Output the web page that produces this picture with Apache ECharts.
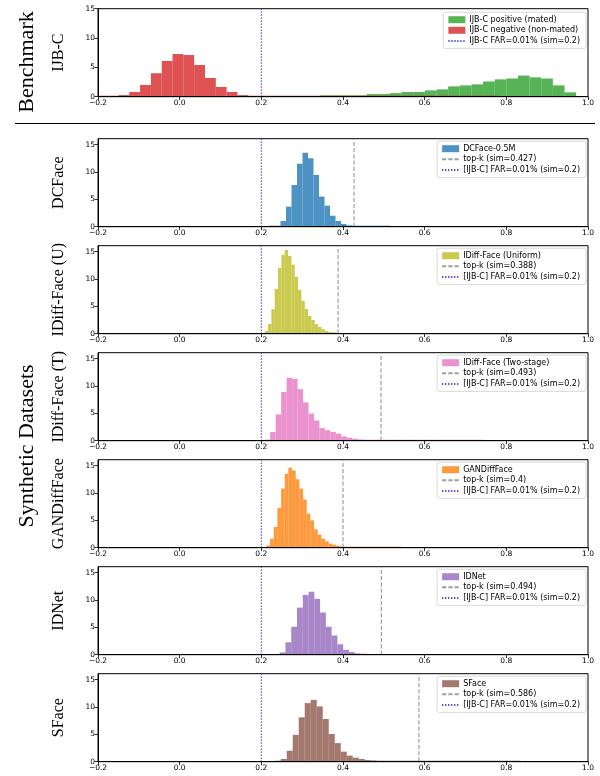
<!DOCTYPE html>
<html>
<head>
<meta charset="utf-8">
<script src="https://cdn.jsdelivr.net/npm/echarts@6/dist/echarts.min.js"></script>
<style>
    html, body { margin: 0; padding: 0; background: #fff; }
    #plot { width: 600px; height: 776px; }
</style>
</head>
<body>
<div id="plot"></div>
<script>
// ---------- data ----------
// every histogram: left edge of first bin, bin width, bar heights (density)

var xTicks = [-0.2, 0.0, 0.2, 0.4, 0.6, 0.8, 1.0];
var yTicks = [0, 5, 10, 15];

// IJB-C negative (non-mated)
var negStart = -0.203, negWidth = 0.0265;
var negValues = [0.03, 0.08, 0.28, 0.8, 2.0, 4.0, 6.1, 7.27, 7.1, 5.4, 3.2, 1.65, 0.8, 0.28, 0.1, 0.05,
    0.03, 0.03, 0.02, 0.02, 0.02, 0.02, 0.02, 0.02, 0.02, 0.01, 0.01, 0.01, 0.01, 0.01, 0.01, 0.01,
    0.01, 0.01, 0.01, 0.01, 0.01];

// IJB-C positive (mated)
var posStart = 0.344, posWidth = 0.0285;
var posValues = [0.23, 0.23, 0.23, 0.23, 0.45, 0.45, 0.62, 0.8, 0.8, 1.08, 1.25, 1.76, 1.93, 2.1, 2.6,
    2.95, 3.1, 3.6, 3.3, 3.1, 1.93, 0.74];

// DCFace-0.5M
var dcStart = 0.22, dcWidth = 0.01347;
var dcValues = [0.05, 0.18, 1.04, 3.66, 7.6, 11.5, 13.5, 12.5, 9.45, 5.5, 3.84, 2.0, 1.04, 0.5, 0.25,
    0.1, 0.05, 0.03, 0.02, 0.02, 0.01, 0.01];

// IDiff-Face (Uniform)
var iduStart = 0.2083, iduWidth = 0.00816;
var iduValues = [0.49, 1.77, 4.5, 8.17, 12.0, 14.4, 15.3, 14.2, 12.6, 10.4, 8.0, 6.0, 4.5, 3.23, 2.5,
    1.77, 1.22, 0.85, 0.49, 0.3, 0.3, 0.12];

// IDiff-Face (Two-stage)
var idtStart = 0.2083, idtWidth = 0.0134;
var idtValues = [0.2, 1.6, 4.8, 8.9, 11.5, 11.3, 9.4, 7.0, 4.95, 3.7, 2.3, 1.9, 1.6, 1.3, 0.8, 0.55,
    0.37, 0.24, 0.18, 0.18, 0.08, 0.06, 0.05, 0.05, 0.05, 0.05, 0.04, 0.03, 0.03, 0.02, 0.02, 0.02,
    0.02, 0.02, 0.02, 0.01, 0.01, 0.01, 0.01, 0.01];

// GANDiffFace
var ganStart = 0.2124, ganWidth = 0.00898;
var ganValues = [0.43, 1.65, 3.8, 7.26, 10.8, 13.5, 14.6, 14.1, 12.5, 10.8, 8.8, 6.2, 5.0, 3.35, 2.38,
    1.65, 1.16, 0.73, 0.55, 0.37, 0.24, 0.05, 0.04, 0.03, 0.03, 0.02, 0.02, 0.02, 0.02, 0.02, 0.01,
    0.01, 0.01, 0.01, 0.01, 0.01, 0.01];

// IDNet
var idnStart = 0.245, idnWidth = 0.01413;
var idnValues = [0.43, 2.26, 5.1, 8.6, 10.9, 11.5, 10.2, 7.7, 5.1, 3.5, 1.9, 0.9, 0.49, 0.24, 0.12];

// SFace
var sfStart = 0.2328, sfWidth = 0.0147;
var sfValues = [0.12, 0.49, 2.0, 4.9, 8.1, 10.7, 11.3, 10.1, 7.8, 5.06, 3.4, 1.83, 1.1, 0.73, 0.49,
    0.3, 0.24, 0.12, 0.1, 0.1, 0.09, 0.08, 0.08, 0.07, 0.07, 0.06, 0.03, 0.03, 0.03, 0.03, 0.03,
    0.03, 0.02, 0.02, 0.02, 0.02, 0.02, 0.02, 0.02, 0.02, 0.01];

var farSim = 0.2;
var topK = [0.427, 0.388, 0.493, 0.4, 0.494, 0.586];

var rowLabels = ['IJB-C', 'DCFace', 'IDiff-Face (U)', 'IDiff-Face (T)', 'GANDiffFace', 'IDNet', 'SFace'];
var synthNames = ['DCFace-0.5M', 'IDiff-Face (Uniform)', 'IDiff-Face (Two-stage)', 'GANDiffFace', 'IDNet', 'SFace'];
var synthColors = ['#1f77b4', '#bcbd22', '#e377c2', '#ff7f0e', '#9467bd', '#8c564b'];
var synthHist = [
    [dcStart, dcWidth, dcValues],
    [iduStart, iduWidth, iduValues],
    [idtStart, idtWidth, idtValues],
    [ganStart, ganWidth, ganValues],
    [idnStart, idnWidth, idnValues],
    [sfStart, sfWidth, sfValues]
];

// ---------- layout ----------
var gridLeft = 98, gridWidth = 490, gridH = 88;
var panelTops = [8.7, 138.7, 245.7, 352.7, 459.7, 566.7, 673.7];
var benchYMax = 15, synthYMax = 16.07;

var labelFont = {fontFamily: 'DejaVu Sans', fontSize: 7.5, color: '#000'};

function toBins(start, width, values) {
    // [left edge, right edge, height]
    let out = [];
    for (let i = 0; i < values.length; i++) {
        out.push([start + i * width, start + (i + 1) * width, values[i]]);
    }
    return out;
}

function renderBar(params, api) {
    let p0 = api.coord([api.value(0), api.value(2)]);
    let p1 = api.coord([api.value(1), 0]);
    let h = p1[1] - p0[1];
    if (h < 1) h = 1;
    return {
        type: 'rect',
        shape: {x: p0[0], y: p1[1] - h, width: p1[0] - p0[0], height: h},
        style: api.style()
    };
}

function fade(hex) {
    // matplotlib alpha=0.8
    let r = parseInt(hex.slice(1, 3), 16), g = parseInt(hex.slice(3, 5), 16), b = parseInt(hex.slice(5, 7), 16);
    return 'rgba(' + r + ',' + g + ',' + b + ',0.8)';
}

var grids = [], xAxes = [], yAxes = [], series = [], legends = [], graphics = [];

for (let i = 0; i < 7; i++) {
    let ymax = i === 0 ? benchYMax : synthYMax;
    grids.push({
        left: gridLeft, top: panelTops[i], width: gridWidth, height: gridH,
        show: true, borderColor: '#000', borderWidth: 1, backgroundColor: 'transparent'
    });
    xAxes.push({
        type: 'value', gridIndex: i, min: -0.2, max: 1.0, interval: 0.2, z: 5,
        axisLine: {show: true, onZero: false, lineStyle: {color: '#000', width: 1}},
        axisTick: {show: true, length: 3.5, lineStyle: {color: '#000', width: 0.8}},
        axisLabel: Object.assign({
            margin: 2.5,
            customValues: xTicks,
            formatter: function (v) { return v.toFixed(1).replace('-', '\u2212'); }
        }, labelFont),
        splitLine: {show: false}
    });
    yAxes.push({
        type: 'value', gridIndex: i, min: 0, max: ymax, z: 5,
        axisLine: {show: true, onZero: false, lineStyle: {color: '#000', width: 1}},
        axisTick: {show: true, length: 3.5, customValues: yTicks, lineStyle: {color: '#000', width: 0.8}},
        axisLabel: Object.assign({margin: 3, customValues: yTicks}, labelFont),
        splitLine: {show: false}
    });

    // row label
    graphics.push({
        type: 'text', x: 59, y: panelTops[i] + gridH / 2, rotation: Math.PI / 2,
        style: {
            text: rowLabels[i], fontFamily: 'Liberation Serif', fontSize: 16, fill: '#000',
            textAlign: 'center', textVerticalAlign: 'middle'
        }
    });
}

var farName = '[IJB-C] FAR=0.01% (sim=0.2)';
var noMarker = {color: 'rgba(0,0,0,0)', borderWidth: 0};
var legendBase = {
    orient: 'vertical', right: 14, itemWidth: 17, itemHeight: 7, itemGap: 2.6,
    padding: [3.5, 6, 3.5, 4], borderColor: '#d0d0d0', borderWidth: 0.8, borderRadius: 2,
    backgroundColor: 'rgba(255,255,255,0.8)', selectedMode: false,
    textStyle: {fontFamily: 'DejaVu Sans', fontSize: 8, color: '#000', padding: [0, 0, 0, -1]}
};

// --- benchmark panel ---
series.push({
    name: 'IJB-C positive (mated)', type: 'custom', xAxisIndex: 0, yAxisIndex: 0,
    renderItem: renderBar, itemStyle: {color: fade('#2ca02c')},
    encode: {x: [0, 1], y: 2}, data: toBins(posStart, posWidth, posValues)
});
series.push({
    name: 'IJB-C negative (non-mated)', type: 'custom', xAxisIndex: 0, yAxisIndex: 0,
    renderItem: renderBar, itemStyle: {color: fade('#d62728')},
    encode: {x: [0, 1], y: 2}, data: toBins(negStart, negWidth, negValues)
});
series.push({
    name: 'IJB-C FAR=0.01% (sim=0.2)', type: 'line', xAxisIndex: 0, yAxisIndex: 0,
    symbol: 'none', z: 4, lineStyle: {color: '#3a3ac4', width: 1.2, type: [1.2, 1.8]},
    data: [[farSim, 0], [farSim, benchYMax]]
});
legends.push(Object.assign({}, legendBase, {
    top: panelTops[0] + 3.5,
    data: [{name: 'IJB-C positive (mated)', icon: 'rect'},
        {name: 'IJB-C negative (non-mated)', icon: 'rect'},
        {name: 'IJB-C FAR=0.01% (sim=0.2)', itemStyle: noMarker}]
}));

// --- synthetic dataset panels ---
for (let k = 0; k < 6; k++) {
    let gi = k + 1;
    let h = synthHist[k];
    let topName = 'top-k (sim=' + topK[k] + ')';
    series.push({
        name: synthNames[k], type: 'custom', xAxisIndex: gi, yAxisIndex: gi,
        renderItem: renderBar, itemStyle: {color: fade(synthColors[k])},
        encode: {x: [0, 1], y: 2}, data: toBins(h[0], h[1], h[2])
    });
    series.push({
        name: topName, type: 'line', xAxisIndex: gi, yAxisIndex: gi,
        symbol: 'none', z: 4, lineStyle: {color: '#a0a0a0', width: 1.2, type: [4.2, 2]},
        data: [[topK[k], 0], [topK[k], synthYMax]]
    });
    series.push({
        name: farName, type: 'line', xAxisIndex: gi, yAxisIndex: gi,
        symbol: 'none', z: 4, lineStyle: {color: '#3a3ac4', width: 1.2, type: [1.2, 1.8]},
        data: [[farSim, 0], [farSim, synthYMax]]
    });
    legends.push(Object.assign({}, legendBase, {
        top: panelTops[gi] + 2.5,
        data: [{name: synthNames[k], icon: 'rect'},
            {name: topName, itemStyle: noMarker},
            {name: farName, itemStyle: noMarker}]
    }));
}

// group titles + separator
graphics.push({
    type: 'text', x: 27, y: 62, rotation: Math.PI / 2,
    style: {
        text: 'Benchmark', fontFamily: 'Liberation Serif', fontSize: 22, fill: '#000',
        textAlign: 'center', textVerticalAlign: 'middle'
    }
});
graphics.push({
    type: 'text', x: 27, y: 446, rotation: Math.PI / 2,
    style: {
        text: 'Synthetic Datasets', fontFamily: 'Liberation Serif', fontSize: 22, fill: '#000',
        textAlign: 'center', textVerticalAlign: 'middle'
    }
});
graphics.push({
    type: 'line', shape: {x1: 15, y1: 123.5, x2: 595, y2: 123.5},
    style: {stroke: '#000', lineWidth: 1}
});

var chart = echarts.init(document.getElementById('plot'), null, {renderer: 'canvas'});
chart.setOption({
    animation: false,
    backgroundColor: '#fff',
    grid: grids,
    xAxis: xAxes,
    yAxis: yAxes,
    legend: legends,
    series: series,
    graphic: graphics
});
</script>
</body>
</html>
